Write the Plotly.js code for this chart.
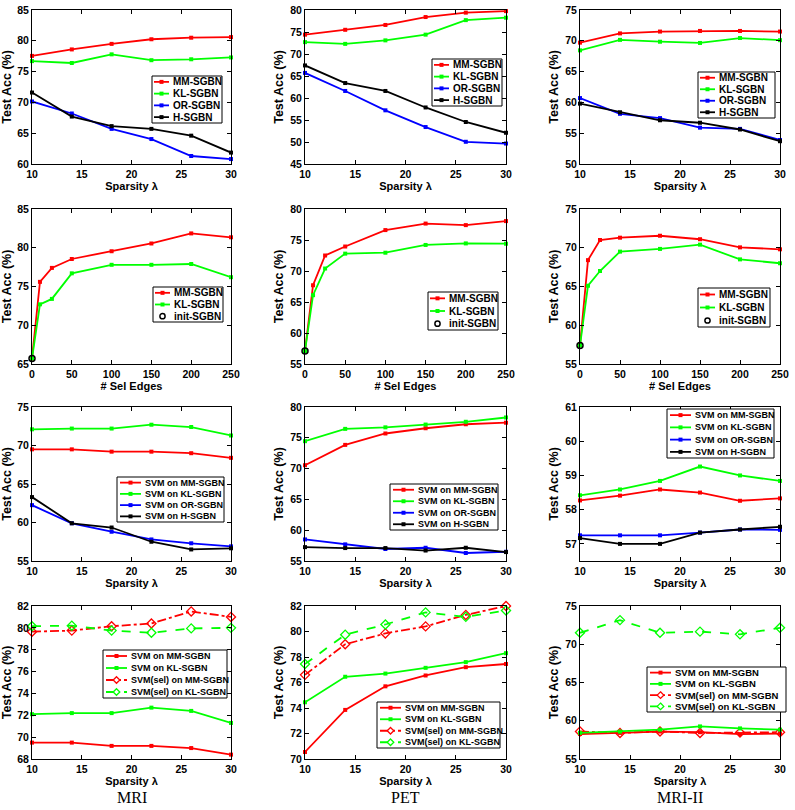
<!DOCTYPE html>
<html>
<head>
<meta charset="utf-8">
<script src="https://cdn.plot.ly/plotly-3.0.1.min.js"></script>
<style>html,body{margin:0;padding:0;background:#fff;}#chart{width:795px;height:810px;}</style>
</head>
<body>
<div id="chart"></div>
<script>
// ---------------- data ----------------
const lam = [10, 14, 18, 22, 26, 30];
const edges = [0, 10, 25, 50, 100, 150, 200, 250];
const initX = [0];

// Row 1: test accuracy vs sparsity
const mri_mm = [77.55, 78.6, 79.5, 80.25, 80.5, 80.6];
const mri_kl = [76.7, 76.4, 77.8, 76.85, 77.0, 77.3];
const mri_or = [70.15, 68.2, 65.7, 64.05, 61.3, 60.8];
const mri_h  = [71.6, 67.7, 66.15, 65.7, 64.6, 61.85];

const pet_mm = [74.4, 75.5, 76.6, 78.4, 79.4, 79.75];
const pet_kl = [72.7, 72.3, 73.1, 74.4, 77.7, 78.25];
const pet_or = [65.7, 61.6, 57.2, 53.4, 50.05, 49.65];
const pet_h  = [67.4, 63.4, 61.6, 57.85, 54.55, 52.1];

const mri2_mm = [69.7, 71.2, 71.5, 71.6, 71.6, 71.5];
const mri2_kl = [68.45, 70.15, 69.85, 69.65, 70.45, 70.1];
const mri2_or = [60.7, 58.15, 57.45, 55.9, 55.7, 53.9];
const mri2_h  = [59.8, 58.4, 57.1, 56.7, 55.6, 53.7];

// Row 2: test accuracy vs number of selected edges
const mri_e_mm = [65.7, 75.6, 77.4, 78.55, 79.55, 80.55, 81.85, 81.35];
const mri_e_kl = [65.7, 72.7, 73.4, 76.7, 77.8, 77.8, 77.9, 76.2];
const mri_init = [65.7];

const pet_e_mm = [57.1, 67.7, 72.5, 73.95, 76.6, 77.65, 77.4, 78.05];
const pet_e_kl = [57.1, 66.1, 70.4, 72.8, 72.95, 74.2, 74.45, 74.4];
const pet_init = [57.1];

const mri2_e_mm = [57.4, 68.4, 71.0, 71.3, 71.55, 71.1, 70.05, 69.8];
const mri2_e_kl = [57.4, 65.1, 67.0, 69.5, 69.85, 70.4, 68.5, 68.0];
const mri2_init = [57.4];

// Row 3: SVM on learned networks
const svm_mri_mm = [69.5, 69.5, 69.2, 69.2, 69.0, 68.4];
const svm_mri_kl = [72.1, 72.2, 72.2, 72.7, 72.4, 71.3];
const svm_mri_or = [62.25, 59.9, 58.8, 57.8, 57.3, 56.9];
const svm_mri_h  = [63.3, 59.9, 59.35, 57.5, 56.5, 56.65];

const svm_pet_mm = [70.55, 73.85, 75.7, 76.55, 77.2, 77.45];
const svm_pet_kl = [74.45, 76.45, 76.7, 77.15, 77.6, 78.3];
const svm_pet_or = [58.5, 57.7, 56.95, 57.15, 56.3, 56.5];
const svm_pet_h  = [57.25, 57.1, 57.1, 56.7, 57.15, 56.45];

const svm_mri2_mm = [58.27, 58.41, 58.59, 58.5, 58.26, 58.33];
const svm_mri2_kl = [58.42, 58.59, 58.84, 59.26, 59.0, 58.84];
const svm_mri2_or = [57.25, 57.25, 57.25, 57.33, 57.42, 57.41];
const svm_mri2_h  = [57.17, 57.0, 57.0, 57.33, 57.42, 57.5];

// Row 4: SVM with selected edges
const sel_mri_mm = [79.65, 79.75, 80.15, 80.4, 81.5, 81.0];
const sel_mri_kl = [80.15, 80.2, 79.75, 79.55, 79.95, 80.0];
const sel_pet_mm = [76.6, 79.0, 79.85, 80.4, 81.3, 82.0];
const sel_pet_kl = [77.45, 79.75, 80.55, 81.5, 81.15, 81.65];
const sel_mri2_mm = [58.6, 58.4, 58.6, 58.4, 58.45, 58.5];
const sel_mri2_kl = [71.5, 73.15, 71.5, 71.65, 71.3, 72.15];

const datasetNames = ['MRI', 'PET', 'MRI-II'];
const lamTicks = [10, 15, 20, 25, 30];
const edgeTicks = [0, 50, 100, 150, 200, 250];

// ---------------- styling / layout ----------------
const W = 795, H = 810;
const RED = '#ff0000', GREEN = '#00ff00', BLUE = '#0000ff', BLACK = '#000000';
const cols = [[32, 231], [305, 506], [580, 780]];
const rows = [[10, 164], [209, 364], [407, 561], [606, 759]];
const px = x => x / W;
const py = y => 1 - y / H;
const SANS = 'Liberation Sans, Arial, Helvetica, sans-serif';

const S = (y, name, color) => ({y, name, color, kind: 'std'});
const SEL = (y, name, color, dash) => ({y, name, color, kind: 'sel', dash});
const INIT = (y, name) => ({y, name, color: BLACK, kind: 'init'});

const panels = [
  {x: lam, yr: [60, 85], dt: 5, series: [S(mri_mm,'MM-SGBN',RED), S(mri_kl,'KL-SGBN',GREEN), S(mri_or,'OR-SGBN',BLUE), S(mri_h,'H-SGBN',BLACK)], leg: [152, 76, 222, 123], lf: 10},
  {x: lam, yr: [45, 80], dt: 5, series: [S(pet_mm,'MM-SGBN',RED), S(pet_kl,'KL-SGBN',GREEN), S(pet_or,'OR-SGBN',BLUE), S(pet_h,'H-SGBN',BLACK)], leg: [432, 59, 502, 106], lf: 10},
  {x: lam, yr: [50, 75], dt: 5, series: [S(mri2_mm,'MM-SGBN',RED), S(mri2_kl,'KL-SGBN',GREEN), S(mri2_or,'OR-SGBN',BLUE), S(mri2_h,'H-SGBN',BLACK)], leg: [698, 72, 775, 118], lf: 10},
  {x: edges, yr: [65, 85], dt: 5, series: [S(mri_e_mm,'MM-SGBN',RED), S(mri_e_kl,'KL-SGBN',GREEN), INIT(mri_init,'init-SGBN')], leg: [153, 287, 223, 322], lf: 10},
  {x: edges, yr: [55, 80], dt: 5, series: [S(pet_e_mm,'MM-SGBN',RED), S(pet_e_kl,'KL-SGBN',GREEN), INIT(pet_init,'init-SGBN')], leg: [428, 292, 498, 330], lf: 10},
  {x: edges, yr: [55, 75], dt: 5, series: [S(mri2_e_mm,'MM-SGBN',RED), S(mri2_e_kl,'KL-SGBN',GREEN), INIT(mri2_init,'init-SGBN')], leg: [698, 288, 770, 327], lf: 10},
  {x: lam, yr: [55, 75], dt: 5, series: [S(svm_mri_mm,'SVM on MM-SGBN',RED), S(svm_mri_kl,'SVM on KL-SGBN',GREEN), S(svm_mri_or,'SVM on OR-SGBN',BLUE), S(svm_mri_h,'SVM on H-SGBN',BLACK)], leg: [117, 477, 224, 522], lf: 9},
  {x: lam, yr: [55, 80], dt: 5, series: [S(svm_pet_mm,'SVM on MM-SGBN',RED), S(svm_pet_kl,'SVM on KL-SGBN',GREEN), S(svm_pet_or,'SVM on OR-SGBN',BLUE), S(svm_pet_h,'SVM on H-SGBN',BLACK)], leg: [390, 484, 498, 530], lf: 9},
  {x: lam, yr: [56.5, 61], dt: 1, series: [S(svm_mri2_mm,'SVM on MM-SGBN',RED), S(svm_mri2_kl,'SVM on KL-SGBN',GREEN), S(svm_mri2_or,'SVM on OR-SGBN',BLUE), S(svm_mri2_h,'SVM on H-SGBN',BLACK)], leg: [667, 409, 774, 458], lf: 9},
  {x: lam, yr: [68, 82], dt: 2, series: [S(svm_mri_mm,'SVM on MM-SGBN',RED), S(svm_mri_kl,'SVM on KL-SGBN',GREEN), SEL(sel_mri_mm,'SVM(sel) on MM-SGBN',RED,'dashdot'), SEL(sel_mri_kl,'SVM(sel) on KL-SGBN',GREEN,'dash')], leg: [103, 650, 227, 698], lf: 9},
  {x: lam, yr: [70, 82], dt: 2, series: [S(svm_pet_mm,'SVM on MM-SGBN',RED), S(svm_pet_kl,'SVM on KL-SGBN',GREEN), SEL(sel_pet_mm,'SVM(sel) on MM-SGBN',RED,'dashdot'), SEL(sel_pet_kl,'SVM(sel) on KL-SGBN',GREEN,'dash')], leg: [377, 702, 500, 748], lf: 9},
  {x: lam, yr: [55, 75], dt: 5, series: [SEL(sel_mri2_mm,'SVM(sel) on MM-SGBN',RED,'dashdot'), S(svm_mri2_mm,'SVM on MM-SGBN',RED), S(svm_mri2_kl,'SVM on KL-SGBN',GREEN), SEL(sel_mri2_kl,'SVM(sel) on KL-SGBN',GREEN,'dash')], legOrder: [1, 2, 0, 3], leg: [647, 667, 786, 712], lf: 9.5}
];

const traces = [];
const layout = {
  width: W, height: H,
  margin: {l: 0, r: 0, t: 0, b: 0},
  paper_bgcolor: '#ffffff', plot_bgcolor: '#ffffff',
  showlegend: false,
  font: {family: SANS, color: '#000'},
  shapes: [], annotations: []
};

function markerFor(s) {
  if (s.kind === 'sel') return {symbol: 'diamond-open', size: 7, color: s.color, line: {color: s.color, width: 1.3}};
  if (s.kind === 'init') return {symbol: 'circle-open', size: 6, color: BLACK, line: {color: BLACK, width: 1.5}};
  return {symbol: 'square', size: 4, color: s.color, line: {width: 0}};
}

panels.forEach((p, i) => {
  const r = Math.floor(i / 3), c = i % 3;
  const sfx = i === 0 ? '' : String(i + 1);
  const xa = 'x' + sfx, ya = 'y' + sfx;
  const isEdges = p.x === edges;
  p.series.forEach(s => {
    const xs = s.kind === 'init' ? initX : p.x;
    traces.push({
      type: 'scatter', x: xs, y: s.y, name: s.name,
      xaxis: xa, yaxis: ya, cliponaxis: false,
      mode: s.kind === 'init' ? 'markers' : 'lines+markers',
      line: {color: s.color, width: 1.8, dash: s.kind === 'sel' ? s.dash : 'solid'},
      marker: markerFor(s)
    });
  });
  const axisCommon = {
    showline: true, linecolor: '#000', linewidth: 1, mirror: 'ticks',
    ticks: 'inside', ticklen: 4, tickcolor: '#000', tickwidth: 1,
    showgrid: false, zeroline: false,
    tickfont: {family: SANS, size: 10.5, weight: 'bold', color: '#000'}
  };
  layout['xaxis' + sfx] = Object.assign({}, axisCommon, {
    domain: [px(cols[c][0]), px(cols[c][1])], anchor: ya,
    range: isEdges ? [0, 250] : [10, 30],
    tickmode: 'array', tickvals: isEdges ? edgeTicks : lamTicks,
    title: {text: isEdges ? '# Sel Edges' : 'Sparsity λ', standoff: 0, font: {family: SANS, size: 11, weight: 'bold', color: '#000'}}
  });
  layout['yaxis' + sfx] = Object.assign({}, axisCommon, {
    domain: [py(rows[r][1]), py(rows[r][0])], anchor: xa,
    range: p.yr, dtick: p.dt, tick0: 0,
    title: {text: 'Test Acc (%)', standoff: 3, font: {family: SANS, size: 12.5, weight: 'bold', color: '#000'}}
  });

  // hand-drawn legend box in MATLAB style
  const [x0, y0, x1, y1] = p.leg;
  layout.shapes.push({type: 'rect', xref: 'paper', yref: 'paper', x0: px(x0), x1: px(x1), y0: py(y1), y1: py(y0),
    fillcolor: '#ffffff', line: {color: '#000', width: 1}, layer: 'above'});
  const order = p.legOrder || p.series.map((_, k) => k);
  const n = order.length;
  const step = (y1 - y0) / n;
  const wide = r >= 2;
  const lx0 = x0 + (wide ? 3 : 2), lx1 = x0 + (wide ? 24 : 17), tx = x0 + (wide ? 26 : 19);
  order.forEach((k, j) => {
    const s = p.series[k];
    const cy = y0 + step * (j + 0.5);
    const mx = (lx0 + lx1) / 2;
    if (s.kind !== 'init') {
      layout.shapes.push({type: 'line', xref: 'paper', yref: 'paper', x0: px(lx0), x1: px(lx1), y0: py(cy), y1: py(cy),
        line: {color: s.color, width: 1.8, dash: s.kind === 'sel' ? s.dash : 'solid'}, layer: 'above'});
    }
    if (s.kind === 'std') {
      layout.shapes.push({type: 'rect', xref: 'paper', yref: 'paper', x0: px(mx - 2), x1: px(mx + 2), y0: py(cy + 2), y1: py(cy - 2),
        fillcolor: s.color, line: {width: 0}, layer: 'above'});
    } else if (s.kind === 'sel') {
      const d = 3.3;
      layout.shapes.push({type: 'path', xref: 'paper', yref: 'paper',
        path: `M ${px(mx)},${py(cy - d)} L ${px(mx + d)},${py(cy)} L ${px(mx)},${py(cy + d)} L ${px(mx - d)},${py(cy)} Z`,
        fillcolor: '#ffffff', line: {color: s.color, width: 1.3}, layer: 'above'});
    } else {
      layout.shapes.push({type: 'circle', xref: 'paper', yref: 'paper', x0: px(mx - 2.6), x1: px(mx + 2.6), y0: py(cy + 2.6), y1: py(cy - 2.6),
        fillcolor: 'rgba(0,0,0,0)', line: {color: BLACK, width: 1.5}, layer: 'above'});
    }
    layout.annotations.push({xref: 'paper', yref: 'paper', x: px(tx), y: py(cy), xanchor: 'left', yanchor: 'middle',
      text: s.name, showarrow: false, font: {family: SANS, size: p.lf, weight: 'bold', color: '#000'}});
  });
});

// dataset labels under each column
datasetNames.forEach((name, c) => {
  layout.annotations.push({xref: 'paper', yref: 'paper', x: px((cols[c][0] + cols[c][1]) / 2), y: py(797),
    xanchor: 'center', yanchor: 'middle', text: name, showarrow: false,
    font: {family: 'Liberation Serif, Times New Roman, serif', size: 16, color: '#000'}});
});

Plotly.newPlot('chart', traces, layout, {displayModeBar: false, staticPlot: true});
</script>
</body>
</html>
